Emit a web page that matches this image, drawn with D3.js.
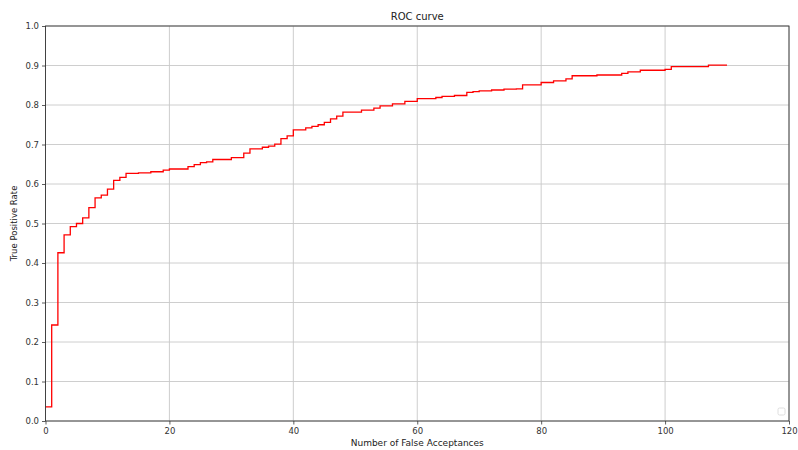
<!DOCTYPE html>
<html>
<head>
<meta charset="utf-8">
<script src="https://cdn.jsdelivr.net/npm/d3@7"></script>
<style>
  html, body { margin: 0; padding: 0; background: #fff; }
  svg text { font-family: "DejaVu Sans", sans-serif; fill: #222; }
</style>
</head>
<body>
<svg id="chart" width="798" height="450"></svg>
<script>
// Number of false acceptances at which the true positive rate changes
const falseAcceptances = [0, 1, 2, 3, 4, 5, 6, 7, 8, 9, 10, 11, 12, 13, 15, 17, 19, 20, 23, 24, 25, 26, 27, 30, 32, 33, 35, 36, 37, 38, 39, 40, 42, 43, 44, 45, 46, 47, 48, 51, 53, 54, 56, 58, 60, 63, 64, 66, 68, 69, 70, 72, 74, 76, 77, 80, 82, 84, 85, 89, 93, 94, 96, 100, 101, 107, 110];
// True positive rate from that point on
const truePositiveRate = [0.036, 0.243, 0.426, 0.471, 0.492, 0.500, 0.514, 0.540, 0.565, 0.572, 0.587, 0.609, 0.617, 0.627, 0.628, 0.631, 0.635, 0.638, 0.644, 0.649, 0.654, 0.656, 0.662, 0.667, 0.678, 0.689, 0.693, 0.696, 0.701, 0.715, 0.722, 0.737, 0.742, 0.746, 0.750, 0.756, 0.765, 0.772, 0.782, 0.787, 0.792, 0.798, 0.803, 0.809, 0.816, 0.819, 0.822, 0.824, 0.832, 0.834, 0.836, 0.838, 0.840, 0.841, 0.851, 0.857, 0.861, 0.866, 0.874, 0.876, 0.880, 0.884, 0.888, 0.890, 0.897, 0.901, 0.901];

const xTicks = [0, 20, 40, 60, 80, 100, 120];
const yTicks = [0, 0.1, 0.2, 0.3, 0.4, 0.5, 0.6, 0.7, 0.8, 0.9, 1.0];

const svg = d3.select("#chart");
const margin = { left: 45.5, right: 9, top: 26, bottom: 29 };
const W = 798, H = 450;
const x = d3.scaleLinear().domain([0, 120]).range([margin.left, W - margin.right]);
const y = d3.scaleLinear().domain([0, 1]).range([H - margin.bottom, margin.top]);

// grid
const grid = svg.append("g");
grid.selectAll("line.vx").data(xTicks).join("line")
  .attr("x1", d => x(d)).attr("x2", d => x(d))
  .attr("y1", y(0)).attr("y2", y(1))
  .attr("stroke", "#c8c8c8").attr("stroke-width", 0.9);
grid.selectAll("line.hy").data(yTicks).join("line")
  .attr("y1", d => y(d)).attr("y2", d => y(d))
  .attr("x1", x(0)).attr("x2", x(120))
  .attr("stroke", "#c8c8c8").attr("stroke-width", 0.9);

// curve
const pts = falseAcceptances.map((fa, i) => [fa, truePositiveRate[i]]);
svg.append("path")
  .datum(pts)
  .attr("fill", "none")
  .attr("stroke", "#ff0000")
  .attr("stroke-width", 1.3)
  .attr("d", d3.line().x(d => x(d[0])).y(d => y(d[1])).curve(d3.curveStepAfter));

// axes
const xAxis = svg.append("g").attr("transform", `translate(0,${y(0)})`)
  .call(d3.axisBottom(x).tickValues(xTicks).tickFormat(d3.format("d")).tickSizeOuter(0).tickSize(3.5).tickPadding(3));
const yAxis = svg.append("g").attr("transform", `translate(${x(0)},0)`)
  .call(d3.axisLeft(y).tickValues(yTicks).tickFormat(d3.format(".1f")).tickSizeOuter(0).tickSize(3.5).tickPadding(3));
[xAxis, yAxis].forEach(g => {
  g.select(".domain").remove();
  g.selectAll(".tick line").attr("stroke", "#333").attr("stroke-width", 0.8);
  g.selectAll(".tick text").style("font-size", "8.5px").style("fill", "#333");
});

// frame
svg.append("rect")
  .attr("x", x(0)).attr("y", y(1))
  .attr("width", x(120) - x(0)).attr("height", y(0) - y(1))
  .attr("fill", "none").attr("stroke", "#333").attr("stroke-width", 0.9);

// empty legend frame
svg.append("rect")
  .attr("x", x(120) - 11).attr("y", y(0) - 13)
  .attr("width", 7).attr("height", 7).attr("rx", 1.5)
  .attr("fill", "#fff").attr("stroke", "#d6d6d6").attr("stroke-width", 0.8);

// labels
svg.append("text").attr("x", (x(0) + x(120)) / 2).attr("y", 20)
  .attr("text-anchor", "middle").style("font-size", "10px").text("ROC curve");
svg.append("text").attr("x", (x(0) + x(120)) / 2).attr("y", 446)
  .attr("text-anchor", "middle").style("font-size", "9px").text("Number of False Acceptances");
svg.append("text")
  .attr("transform", `translate(17,${(y(0) + y(1)) / 2}) rotate(-90)`)
  .attr("text-anchor", "middle").style("font-size", "8.5px").text("True Positive Rate");
</script>
</body>
</html>
